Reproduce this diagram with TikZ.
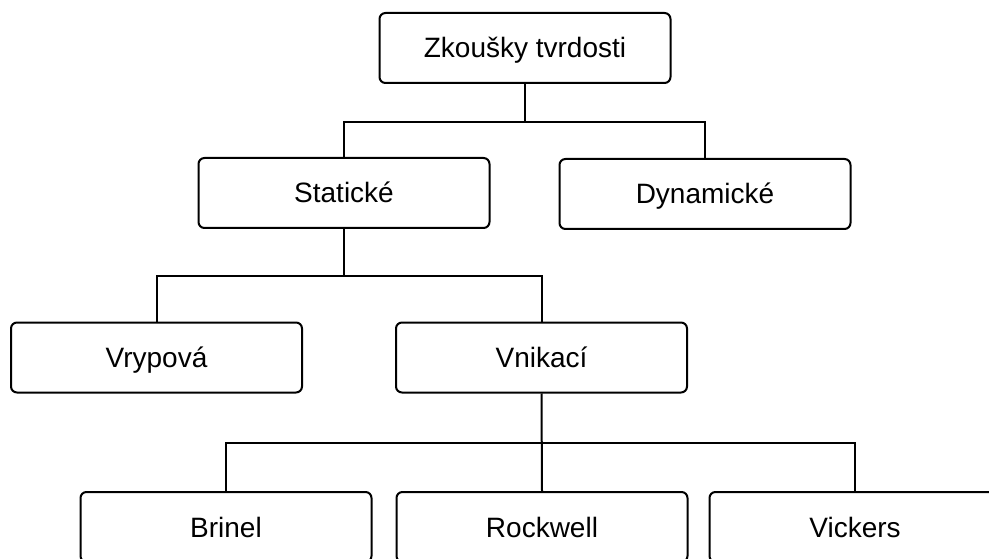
\documentclass[tikz,border=0pt]{standalone}
\usepackage{fontspec}
\setmainfont{Liberation Sans}
\begin{document}
\begin{tikzpicture}[x=1pt,y=-1pt,
  box/.style={draw=black, line width=2pt, rounded corners=6pt, fill=white,
    minimum width=291pt, minimum height=70pt, inner sep=0pt,
    text height=20pt, text depth=0pt,
    font=\fontsize{28}{33}\selectfont, text=black},
  conn/.style={draw=black, line width=2pt}]
\useasboundingbox (0,0) rectangle (989,559);
\clip (0,0) rectangle (989,559);
\fill[white] (0,0) rectangle (989,559);
\node[box] (top)  at (525,48)    {Zkoušky tvrdosti};
\node[box] (stat) at (344,193)   {Statické};
\node[box] (dyn)  at (705,194)   {Dynamické};
\node[box] (vry)  at (156.5,357.5) {Vrypová};
\node[box] (vni)  at (541.5,357.5) {Vnikací};
\node[box] (bri)  at (226,527)   {Brinel};
\node[box] (roc)  at (542,527)   {Rockwell};
\node[box] (vic)  at (855,527)   {Vickers};
\coordinate (j1) at (525,122);
\coordinate (j2) at (344,275.5);
\coordinate (j3) at (542,443);
\draw[conn] (top.south) -- (j1);
\draw[conn] (stat.north) |- (j1) -| (dyn.north);
\draw[conn] (stat.south) -- (j2);
\draw[conn] (vry.north) |- (j2) -| (vni.north);
\draw[conn] (vni.south) -- (roc.north);
\draw[conn] (bri.north) |- (j3) -| (vic.north);
\end{tikzpicture}
\end{document}
